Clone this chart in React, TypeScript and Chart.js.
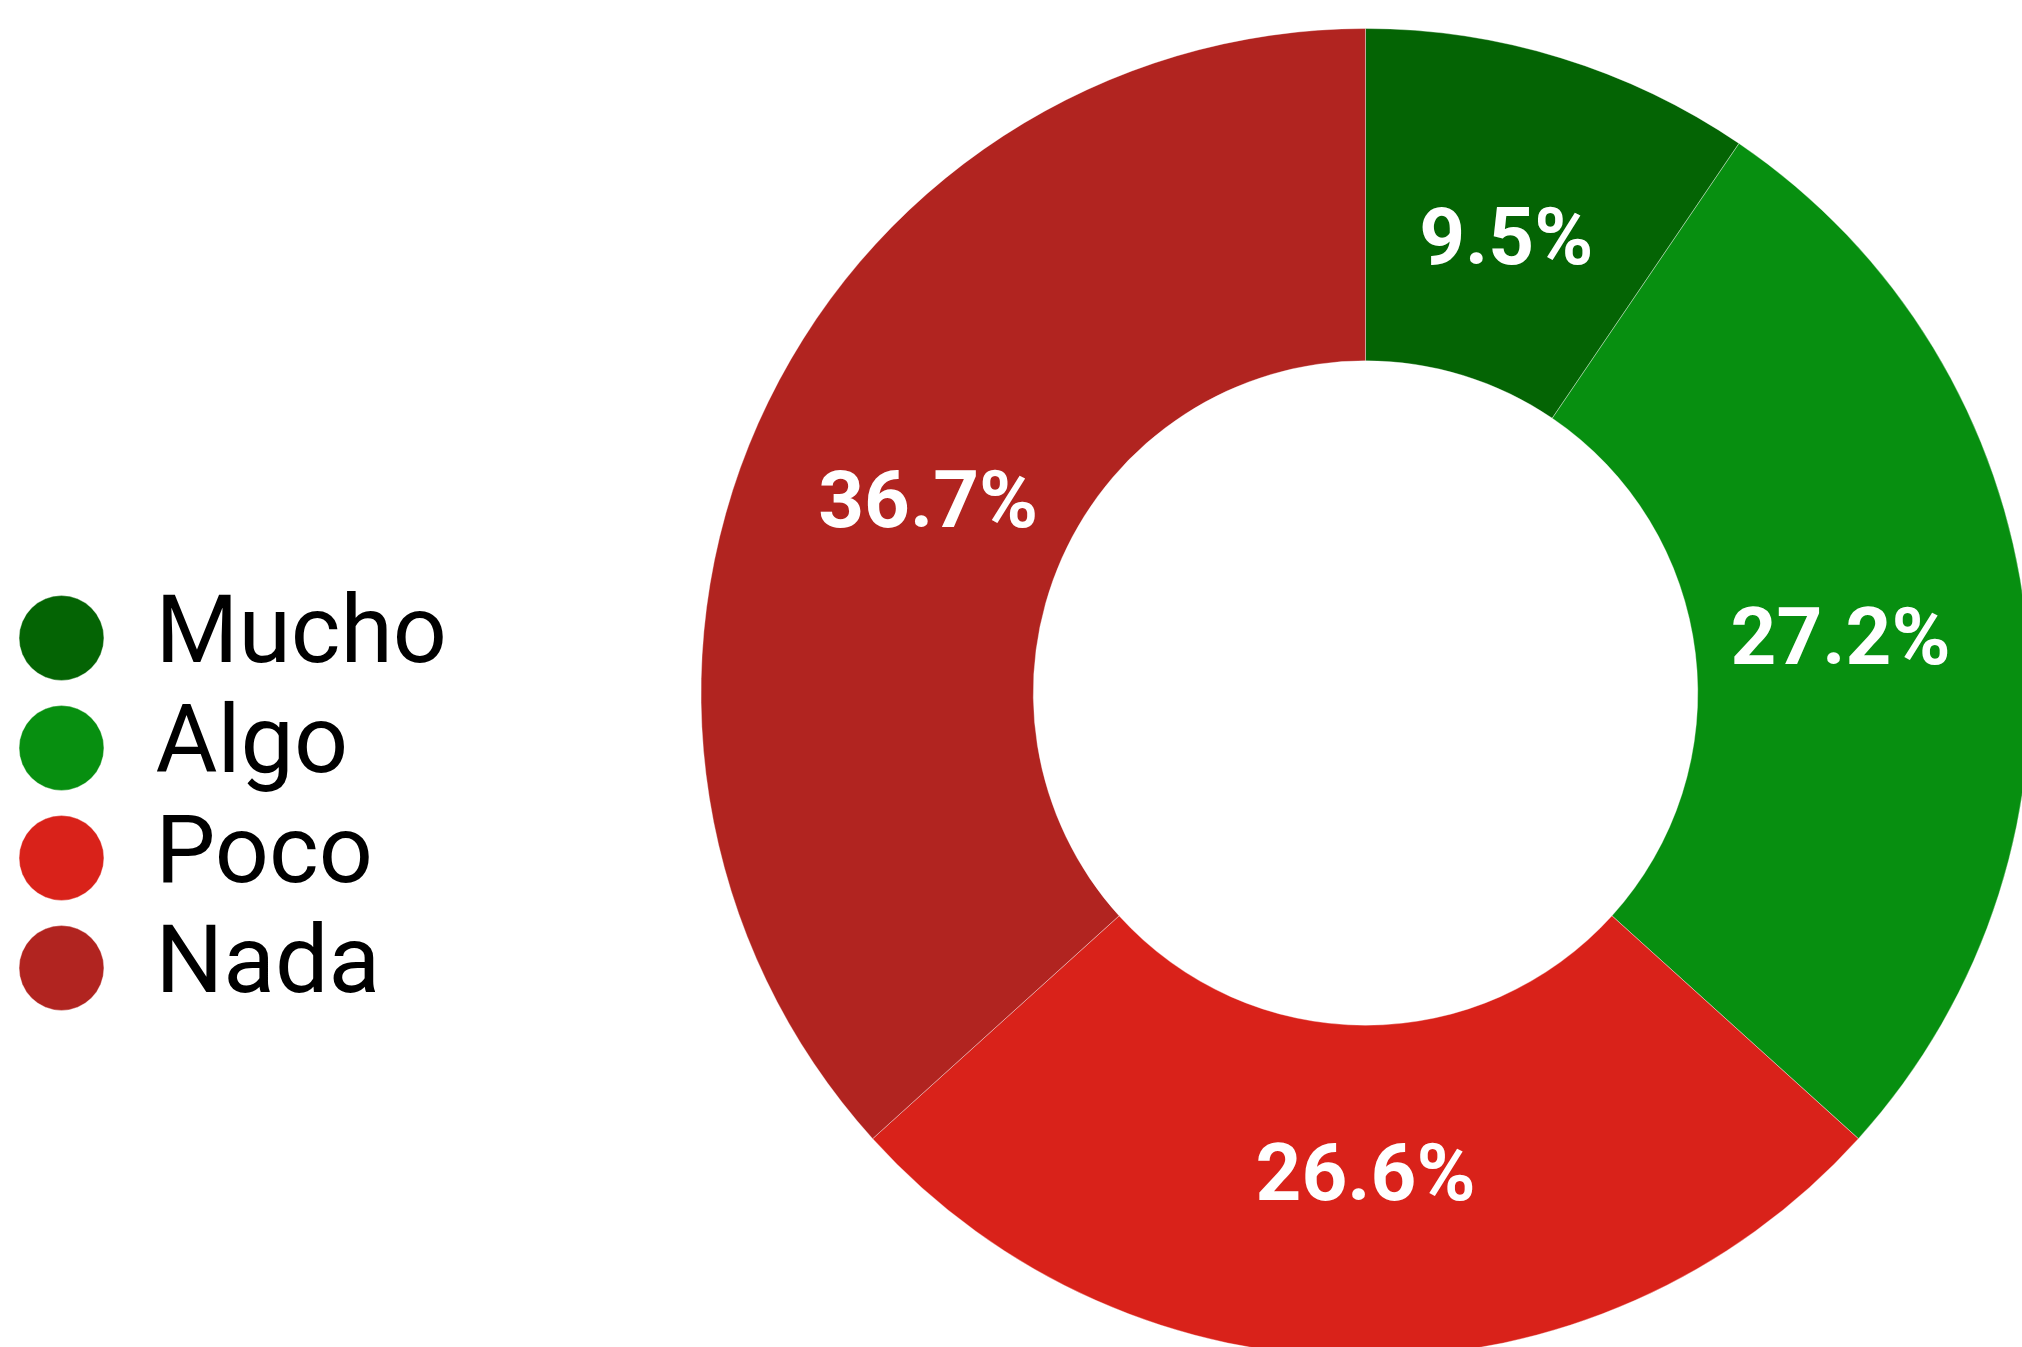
import React, { useEffect, useRef } from 'react';
import { Chart, registerables } from 'chart.js';

Chart.register(...registerables);

const categories = ['Mucho', 'Algo', 'Poco', 'Nada'];
const values = [9.5, 27.2, 26.6, 36.7];
const colors = ['#046404', '#078f10', '#d9221a', '#b12420'];
const valueLabels = ['9.5%', '27.2%', '26.6%', '36.7%'];

const CANVAS_W = 2274;
const CANVAS_H = 1358;
const LABEL_FONT = 80;

export default function App() {
  const ref = useRef<HTMLCanvasElement>(null);

  useEffect(() => {
    document.body.style.margin = '0';
    document.body.style.overflow = 'hidden';
    const canvas = ref.current;
    if (!canvas) return;

    const labelPlugin = {
      id: 'sliceLabels',
      afterDatasetsDraw(chart: any) {
        const ctx = chart.ctx;
        const meta = chart.getDatasetMeta(0);
        ctx.save();
        ctx.fillStyle = '#ffffff';
        ctx.font = `bold ${LABEL_FONT}px Roboto`;
        ctx.textAlign = 'center';
        ctx.textBaseline = 'alphabetic';
        meta.data.forEach((arc: any, i: number) => {
          const { x, y, startAngle, endAngle, innerRadius, outerRadius } = arc.getProps(
            ['x', 'y', 'startAngle', 'endAngle', 'innerRadius', 'outerRadius'],
            true
          );
          const a = (startAngle + endAngle) / 2;
          const r = innerRadius + (outerRadius - innerRadius) * 0.44;
          const tx = x + r * Math.cos(a);
          const ty = y + r * Math.sin(a) + (LABEL_FONT * 0.711) / 2;
          ctx.fillText(valueLabels[i], tx, ty);
        });
        ctx.restore();
      },
    };

    const chart = new Chart(canvas, {
      type: 'doughnut',
      data: {
        labels: categories,
        datasets: [
          {
            data: values,
            backgroundColor: colors,
            borderColor: 'rgba(255,255,255,0.35)',
            borderWidth: 1,
            hoverOffset: 0,
          },
        ],
      },
      options: {
        responsive: false,
        animation: false,
        devicePixelRatio: 1,
        events: [],
        cutout: '50%',
        layout: { padding: { top: 28, left: 0, right: 0, bottom: 0 } },
        plugins: {
          tooltip: { enabled: false },
          legend: {
            position: 'left',
            align: 'center',
            title: {
              display: true,
              text: ' ',
              font: { size: 10 },
              padding: { top: 0, bottom: 208 },
            },
            labels: {
              usePointStyle: true,
              pointStyle: 'circle',
              boxWidth: 93,
              boxHeight: 60,
              padding: 15,
              color: '#000000',
              font: { family: 'Roboto', size: 95, weight: 'normal' },
            },
          },
        },
      },
      plugins: [labelPlugin],
    });

    return () => chart.destroy();
  }, []);

  return (
    <canvas
      ref={ref}
      width={CANVAS_W}
      height={CANVAS_H}
      style={{ display: 'block', width: CANVAS_W + 'px', height: CANVAS_H + 'px' }}
    />
  );
}
